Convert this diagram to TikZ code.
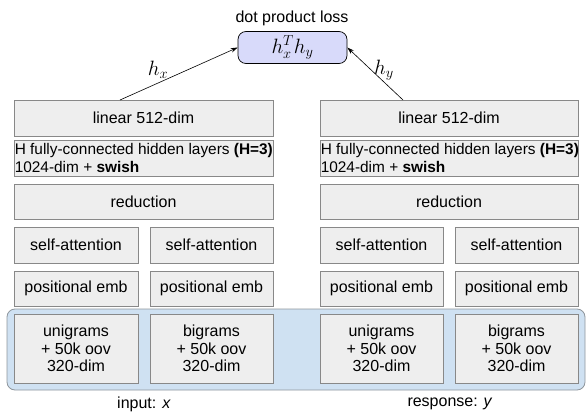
\documentclass[tikz,border=0pt]{standalone}
\usepackage{fontspec}
\setmainfont{Liberation Sans}
\usetikzlibrary{arrows.meta}
\definecolor{boxfill}{HTML}{EEEEEE}
\definecolor{boxline}{HTML}{888888}
\definecolor{contfill}{HTML}{CFE1F2}
\definecolor{contline}{HTML}{8F969C}
\definecolor{lossfill}{HTML}{D8DAFA}
\newcommand{\fsz}{\fontsize{16}{17.5}\selectfont}
\newcommand{\fszh}{\fontsize{15.4}{17.5}\selectfont}
\tikzset{
  box/.style={draw=boxline, fill=boxfill, line width=0.8pt, inner sep=0pt, font=\fsz, align=center},
  wide/.style={box, minimum width=259pt},
  narrow/.style={box, minimum width=123pt},
  lbl/.style={font=\fsz, inner sep=0pt},
  htext/.style={font=\fszh, inner sep=0pt, align=left, anchor=west},
  arr/.style={-{Stealth[length=7pt,width=4.5pt]}, line width=0.6pt, black},
  mlbl/.style={inner sep=0pt, font=\fontsize{20}{22}\selectfont},
}
\begin{document}
\begin{tikzpicture}[x=1pt,y=-1pt]
\useasboundingbox (0,0) rectangle (586,412);
% container
\node[draw=contline, fill=contfill, line width=0.8pt, rounded corners=8pt, minimum width=578pt, minimum height=81pt, inner sep=0pt] (cont) at (296,349.5) {};
% loss
\node[lbl] (losslbl) at (292,18) {dot product loss};
\node[draw=black, fill=lossfill, line width=0.7pt, rounded corners=8pt, minimum width=109pt, minimum height=32pt, inner sep=0pt, font=\fontsize{22}{24}\selectfont] (loss) at (292.5,47.5) {$h_x^T h_y$};
% left column
\node[wide, minimum height=36pt] (linL) at (143.5,118) {linear 512-dim};
\node[wide, minimum height=36pt] (hidL) at (143.5,158) {};
\node[htext] (hidLt) at ([xshift=1pt]hidL.west) {H fully-connected hidden layers \textbf{(H=3)}\\1024-dim + \textbf{swish}};
\node[wide, minimum height=35pt] (redL) at (143.5,201.5) {reduction};
\node[narrow, minimum width=124pt, minimum height=36pt] (saL1) at (76,245) {self-attention};
\node[narrow, minimum height=36pt] (saL2) at (211.5,245) {self-attention};
\node[narrow, minimum width=124pt, minimum height=35pt] (peL1) at (76,288.5) {positional emb};
\node[narrow, minimum height=35pt] (peL2) at (211.5,288.5) {positional emb};
\node[narrow, minimum width=124pt, minimum height=69pt] (emL1) at (76,348.5) {unigrams\\+ 50k oov\\320-dim};
\node[narrow, minimum height=69pt] (emL2) at (211.5,348.5) {bigrams\\+ 50k oov\\320-dim};
% right column
\node[wide, minimum width=258pt, minimum height=36pt] (linR) at (449,118) {linear 512-dim};
\node[wide, minimum width=258pt, minimum height=36pt] (hidR) at (449,158) {};
\node[htext] (hidRt) at ([xshift=1pt]hidR.west) {H fully-connected hidden layers \textbf{(H=3)}\\1024-dim + \textbf{swish}};
\node[wide, minimum width=258pt, minimum height=35pt] (redR) at (449,201.5) {reduction};
\node[narrow, minimum height=36pt] (saR1) at (381.5,245) {self-attention};
\node[narrow, minimum height=36pt] (saR2) at (516.5,245) {self-attention};
\node[narrow, minimum height=35pt] (peR1) at (381.5,288.5) {positional emb};
\node[narrow, minimum height=35pt] (peR2) at (516.5,288.5) {positional emb};
\node[narrow, minimum height=69pt] (emR1) at (381.5,348.5) {unigrams\\+ 50k oov\\320-dim};
\node[narrow, minimum height=69pt] (emR2) at (516.5,348.5) {bigrams\\+ 50k oov\\320-dim};
% bottom labels
\node[lbl] (inlbl) at (144,404) {input: \textit{x}};
\node[lbl] (resplbl) at (450,404) {response: \textit{y}};
% arrows
\coordinate (sL) at (120,100);
\coordinate (sR) at (403,100);
\draw[arr] (sL) -- (loss.west);
\draw[arr] (sR) -- (loss.east);
\node[mlbl] (hx) at (158,70) {$h_x$};
\node[mlbl] (hy) at (384,70) {$h_y$};
\end{tikzpicture}
\end{document}
